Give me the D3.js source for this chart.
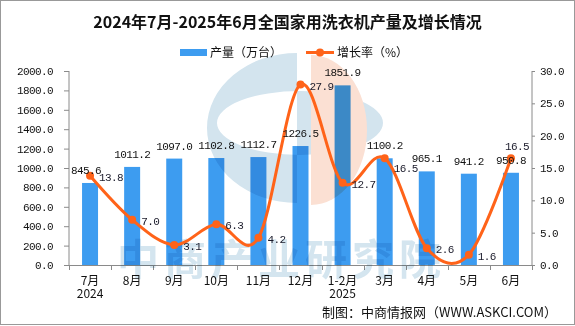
<!DOCTYPE html>
<html><head><meta charset="utf-8">
<script src="https://cdn.jsdelivr.net/npm/d3@7/dist/d3.min.js"></script>
<style>
html,body{margin:0;padding:0;background:#fff;}
svg{display:block;}
</style></head>
<body><svg id="c" width="575" height="326"></svg>
<script>
const categories = ["7月","8月","9月","10月","11月","12月","1-2月","3月","4月","5月","6月"];
const yearLabels = ["2024","","","","","","2025","","","",""];
const production = [845.6,1011.2,1097.0,1102.8,1112.7,1226.5,1851.9,1100.2,965.1,941.2,950.8];
const growth = [13.8,7.0,3.1,6.3,4.2,27.9,12.7,16.5,2.6,1.6,16.5];
const leftTicks = [0,200,400,600,800,1000,1200,1400,1600,1800,2000];
const rightTicks = [0,5,10,15,20,25,30];
const title = "2024年7月-2025年6月全国家用洗衣机产量及增长情况";
const legendNames = ["产量（万台）","增长率（%）"];
const sourceText = "制图：中商情报网（WWW.ASKCI.COM）";
const watermarkText = "中商产业研究院";

const BAR = "#3d9cf0", LINE = "#ff6319", AXIS = "#8a8a8a";
const CJK = "'Noto Sans CJK SC','Noto Sans',sans-serif";
const MONO = "'Liberation Mono','DejaVu Sans Mono',monospace";

const svg = d3.select("#c");
svg.append("rect").attr("x",0.5).attr("y",0.5).attr("width",574).attr("height",324)
  .attr("fill","#fff").attr("stroke","#999");

const L = 69, R = 532, T = 71, B = 265;
const x = d3.scaleBand().domain(categories).range([L,R]).padding(0);
const yL = d3.scaleLinear().domain([0,2000]).range([B,T]);
const yR = d3.scaleLinear().domain([0,30]).range([B,T]);
const bw = x.bandwidth()*0.38;
const cx = c => x(c) + x.bandwidth()/2;

// title
svg.append("text").attr("x",287.5).attr("y",28).attr("text-anchor","middle")
  .attr("font-family",CJK).attr("font-weight","bold").attr("font-size",16).attr("fill","#111")
  .text(title);

// legend
svg.append("rect").attr("x",180).attr("y",49).attr("width",27).attr("height",7).attr("fill",BAR);
svg.append("text").attr("x",210).attr("y",56.5).attr("font-family",CJK).attr("font-size",12).attr("fill","#111").text(legendNames[0]);
svg.append("line").attr("x1",306).attr("x2",334).attr("y1",52.5).attr("y2",52.5).attr("stroke",LINE).attr("stroke-width",3);
svg.append("circle").attr("cx",320).attr("cy",52.5).attr("r",4).attr("fill",LINE);
svg.append("text").attr("x",337).attr("y",56.5).attr("font-family",CJK).attr("font-size",12).attr("fill","#111").text(legendNames[1]);

// bars
svg.append("g").selectAll("rect").data(production).join("rect")
  .attr("x",(d,i)=>cx(categories[i])-bw/2).attr("width",bw)
  .attr("y",d=>yL(d)).attr("height",d=>B-yL(d)).attr("fill",BAR);

// axes
const axL = svg.append("g").attr("transform",`translate(${L},0)`)
  .call(d3.axisLeft(yL).tickValues(leftTicks).tickFormat(d3.format(".1f")).tickSize(5).tickPadding(11));
const axR = svg.append("g").attr("transform",`translate(${R},0)`)
  .call(d3.axisRight(yR).tickValues(rightTicks).tickFormat(d3.format(".1f")).tickSize(3).tickPadding(5));
[axL,axR].forEach(a=>{
  a.select(".domain").attr("stroke",AXIS).attr("d", `M0,${T}V${B}`);
  a.selectAll(".tick line").attr("stroke",AXIS);
  a.selectAll(".tick text").attr("font-family",MONO).attr("font-size",11).attr("letter-spacing","-0.6px").attr("fill","#111");
});
svg.append("line").attr("x1",L).attr("x2",R).attr("y1",B+0.5).attr("y2",B+0.5).attr("stroke",AXIS);
const bounds = categories.map(c=>x(c)).concat([R]);
svg.append("g").selectAll("line").data(bounds).join("line")
  .attr("x1",d=>Math.round(d)+0.5).attr("x2",d=>Math.round(d)+0.5).attr("y1",B).attr("y2",B+5).attr("stroke",AXIS);

// watermark (multiplied over bars)
const wm = svg.append("g").style("mix-blend-mode","multiply");
wm.append("path").attr("fill","#d3e4ee").attr("fill-rule","evenodd")
  .attr("d","M297,53 A90,75 0 0 0 297,203 Z M217,123 A83,32 0 1 0 383,123 A83,32 0 1 0 217,123 Z");
wm.append("path").attr("fill","#fbe0d3")
  .attr("d","M311,55 A56,75 0 0 1 311,205 Z");
wm.append("text").attr("x",117).attr("y",275).attr("font-family",CJK).attr("font-size",42)
  .attr("font-weight","bold").attr("letter-spacing","5px").attr("fill","#d4e5ef").text(watermarkText);

const cat = svg.append("g").attr("font-family",CJK).attr("font-size",12).attr("fill","#111").attr("text-anchor","middle");
categories.forEach((c,i)=>{
  cat.append("text").attr("x",cx(c)).attr("y",285).text(c);
  if (yearLabels[i]) cat.append("text").attr("x",cx(c)).attr("y",297.5).text(yearLabels[i]);
});

// line
const pts = growth.map((g,i)=>[cx(categories[i]), yR(g)]);
svg.append("path").attr("d", d3.line().curve(d3.curveCatmullRom.alpha(0))(pts))
  .attr("fill","none").attr("stroke",LINE).attr("stroke-width",3);
svg.append("g").selectAll("circle").data(pts).join("circle")
  .attr("cx",d=>d[0]).attr("cy",d=>d[1]).attr("r",4).attr("fill",LINE);

// bar labels
const barLabelShift = {0:-4};
svg.append("g").selectAll("text").data(production).join("text")
  .attr("x",(d,i)=>cx(categories[i]) + (barLabelShift[i]||0)).attr("y",d=>yL(d)-9)
  .attr("text-anchor","middle").attr("font-family",MONO).attr("font-size",11).attr("letter-spacing","-0.6px")
  .attr("fill","#111").text(d=>d.toFixed(1));

// line labels
const lineLabelShift = {7:[9,14], 10:[-6,-8]};
svg.append("g").selectAll("text").data(growth).join("text")
  .attr("x",(d,i)=>pts[i][0] + (lineLabelShift[i]?lineLabelShift[i][0]:9))
  .attr("y",(d,i)=>pts[i][1] + (lineLabelShift[i]?lineLabelShift[i][1]:5))
  .attr("font-family",MONO).attr("font-size",11).attr("letter-spacing","-0.6px")
  .attr("fill","#1a1a2a").text(d=>d.toFixed(1));

// source
svg.append("text").attr("x",557).attr("y",317).attr("text-anchor","end")
  .attr("font-family",CJK).attr("font-size",13).attr("fill","#111").text(sourceText);
</script></body></html>
